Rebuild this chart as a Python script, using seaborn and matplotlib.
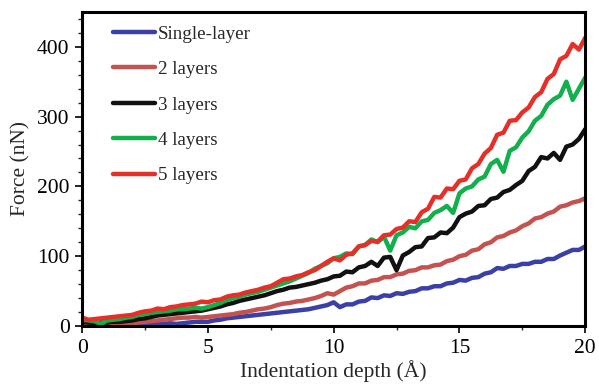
import numpy as np
import pandas as pd
import matplotlib
matplotlib.use("Agg")
import matplotlib.pyplot as plt
import seaborn as sns
from matplotlib.ticker import MultipleLocator

# Indentation depth grid (Å), step 0.25
depth = [round(i * 0.25, 2) for i in range(81)]

single_layer = [2, 1, 1, 1, 1, 1, 1, 2, 2, 2, 3, 3, 3, 3, 4, 3, 4, 5, 6, 6,
                6, 8, 9, 11, 12, 13, 14, 15, 16, 17, 18, 19, 20, 21, 22, 23, 24, 26, 28, 30,
                34, 27, 31, 31, 35, 36, 41, 40, 44, 43, 47, 46, 49, 50, 54, 54, 57, 57, 61, 62,
                66, 65, 69, 70, 75, 77, 83, 82, 86, 86, 89, 89, 92, 92, 96, 96, 101, 105, 109, 109,
                114]

two_layers = [3, 3, 2, 3, 2, 2, 3, 3, 4, 5, 6, 7, 8, 9, 10, 11, 12, 12, 13, 12,
              13, 14, 15, 16, 17, 19, 20, 22, 24, 25, 27, 30, 32, 33, 35, 36, 38, 40, 43, 47,
              45, 50, 55, 57, 61, 61, 65, 66, 70, 70, 74, 75, 79, 80, 84, 84, 87, 88, 93, 95,
              100, 102, 108, 110, 117, 120, 127, 129, 134, 137, 143, 147, 154, 156, 161, 164, 171, 173, 177, 179,
              183]

three_layers = [6, 5, 4, 5, 5, 6, 6, 7, 8, 10, 11, 13, 15, 16, 17, 18, 19, 20, 21, 22,
                24, 26, 28, 31, 33, 36, 38, 40, 42, 44, 47, 50, 52, 55, 56, 58, 60, 62, 65, 67,
                71, 72, 78, 77, 84, 86, 92, 86, 98, 99, 80, 101, 106, 113, 114, 126, 127, 134, 133, 141,
                156, 161, 164, 172, 173, 182, 184, 192, 195, 202, 208, 222, 228, 242, 240, 248, 238, 257, 260, 268,
                282]

four_layers = [9, 8, 7, 3, 8, 9, 10, 12, 13, 16, 17, 19, 20, 21, 22, 24, 24, 25, 26, 25,
               27, 30, 33, 37, 40, 42, 45, 47, 49, 52, 55, 58, 61, 64, 68, 72, 76, 82, 86, 90,
               97, 99, 104, 103, 114, 116, 124, 120, 128, 108, 130, 134, 142, 140, 150, 152, 162, 166, 172, 162,
               190, 197, 200, 210, 214, 232, 238, 221, 251, 256, 270, 279, 294, 301, 317, 325, 330, 350, 324, 340,
               356]

five_layers = [12, 9, 10, 11, 12, 13, 14, 15, 16, 19, 21, 22, 25, 24, 27, 28, 30, 31, 32, 35,
               34, 37, 38, 42, 44, 45, 48, 50, 52, 55, 57, 62, 67, 68, 71, 73, 77, 80, 86, 92,
               97, 94, 102, 104, 114, 116, 122, 121, 130, 131, 139, 141, 150, 149, 163, 168, 185, 184, 197, 196,
               208, 210, 226, 232, 247, 255, 274, 277, 294, 295, 306, 313, 328, 335, 354, 361, 382, 387, 404, 396,
               413]

labels = ["Single-layer", "2 layers", "3 layers", "4 layers", "5 layers"]
series = [single_layer, two_layers, three_layers, four_layers, five_layers]
colors = ["#3b40a6", "#c4534f", "#111111", "#12b04c", "#e5302a"]

x_ticks = [0, 5, 10, 15, 20]
y_ticks = [0, 100, 200, 300, 400]

rows = []
for lab, vals in zip(labels, series):
    for d, v in zip(depth, vals):
        rows.append({"depth": d, "force": v, "layers": lab})
df = pd.DataFrame(rows)

sns.set_style("ticks")
plt.rcParams["font.family"] = ["Liberation Serif", "DejaVu Serif"]

fig = plt.figure(figsize=(5.99, 3.84), dpi=100)
ax = fig.add_axes([0.137, 0.151, 0.840, 0.818])

sns.lineplot(data=df, x="depth", y="force", hue="layers", hue_order=labels,
             palette=colors, linewidth=3.2, ax=ax, estimator=None, sort=False)

ax.set_xlim(0, 20)
ax.set_ylim(0, 450)
ax.set_xticks(x_ticks)
ax.set_yticks(y_ticks)
ax.xaxis.set_minor_locator(MultipleLocator(2.5))
ax.yaxis.set_minor_locator(MultipleLocator(20))
ax.tick_params(axis="both", which="major", direction="out", length=5, width=1.2,
               labelsize=15.5, colors="black", pad=4)
ax.tick_params(axis="both", which="minor", direction="out", length=3, width=1.0)
ax.tick_params(top=False, right=False)

for sp in ax.spines.values():
    sp.set_linewidth(2.2)
    sp.set_color("black")

ax.set_xlabel("Indentation depth (Å)", fontsize=15.5, labelpad=2)
ax.set_ylabel("Force (nN)", fontsize=15.5, labelpad=5)

leg = ax.legend(loc="upper left", frameon=False, fontsize=13.7,
                handlelength=2.2, handletextpad=0.15, labelspacing=0.95,
                bbox_to_anchor=(0.062, 0.957), borderaxespad=0, borderpad=0)
for line in leg.get_lines():
    line.set_linewidth(3.2)

fig.savefig("out.png", dpi=100)
